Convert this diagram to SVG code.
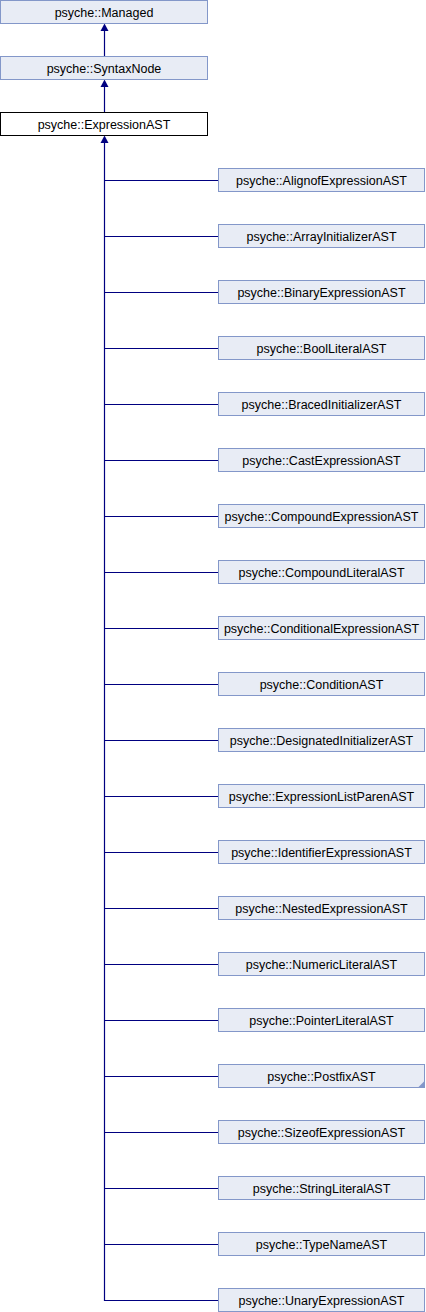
<svg xmlns="http://www.w3.org/2000/svg" width="426" height="1312" viewBox="0 0 426 1312">
<style>
.b{fill:#E8ECF5;stroke:#8397C9;stroke-width:1}
.cur{fill:#FFFFFF;stroke:#000000;stroke-width:1}
.t{font-family:"Liberation Sans",Arial,sans-serif;font-size:12.5px;fill:#000;text-anchor:middle}
.e{stroke:#000080;stroke-width:1.2;fill:none}
.ah{fill:#000080}
</style>
<rect width="426" height="1312" fill="#FFFFFF"/>
<g id="connectors">
<path class="e" d="M104.5 30V56M104.5 86V112"/>
<polygon class="ah" points="104.5,23.5 100.5,31 108.5,31"/>
<polygon class="ah" points="104.5,79.5 100.5,87 108.5,87"/>
<polygon class="ah" points="104.5,135.5 100.5,143 108.5,143"/>
<path class="e" d="M104.5 142V1300.5H218"/>
<path class="e" d="M104.5 180.5H218M104.5 236.5H218M104.5 292.5H218M104.5 348.5H218M104.5 404.5H218M104.5 460.5H218M104.5 516.5H218M104.5 572.5H218M104.5 628.5H218M104.5 684.5H218M104.5 740.5H218M104.5 796.5H218M104.5 852.5H218M104.5 908.5H218M104.5 964.5H218M104.5 1020.5H218M104.5 1076.5H218M104.5 1132.5H218M104.5 1188.5H218M104.5 1244.5H218"/>
</g>
<g id="n_managed"><rect class="b" x="0.5" y="0.5" width="207" height="23"/><text class="t" x="104" y="16.5">psyche::Managed</text></g>
<g id="n_syntaxnode"><rect class="b" x="0.5" y="56.5" width="207" height="23"/><text class="t" x="104" y="72.5">psyche::SyntaxNode</text></g>
<g id="n_expressionast"><rect class="cur" x="0.5" y="112.5" width="207" height="23"/><text class="t" x="104" y="128.5">psyche::ExpressionAST</text></g>
<g id="n0"><rect class="b" x="218.5" y="168.5" width="206" height="23"/><text class="t" x="321.5" y="184.5">psyche::AlignofExpressionAST</text></g>
<g id="n1"><rect class="b" x="218.5" y="224.5" width="206" height="23"/><text class="t" x="321.5" y="240.5">psyche::ArrayInitializerAST</text></g>
<g id="n2"><rect class="b" x="218.5" y="280.5" width="206" height="23"/><text class="t" x="321.5" y="296.5">psyche::BinaryExpressionAST</text></g>
<g id="n3"><rect class="b" x="218.5" y="336.5" width="206" height="23"/><text class="t" x="321.5" y="352.5">psyche::BoolLiteralAST</text></g>
<g id="n4"><rect class="b" x="218.5" y="392.5" width="206" height="23"/><text class="t" x="321.5" y="408.5">psyche::BracedInitializerAST</text></g>
<g id="n5"><rect class="b" x="218.5" y="448.5" width="206" height="23"/><text class="t" x="321.5" y="464.5">psyche::CastExpressionAST</text></g>
<g id="n6"><rect class="b" x="218.5" y="504.5" width="206" height="23"/><text class="t" x="321.5" y="520.5">psyche::CompoundExpressionAST</text></g>
<g id="n7"><rect class="b" x="218.5" y="560.5" width="206" height="23"/><text class="t" x="321.5" y="576.5">psyche::CompoundLiteralAST</text></g>
<g id="n8"><rect class="b" x="218.5" y="616.5" width="206" height="23"/><text class="t" x="321.5" y="632.5">psyche::ConditionalExpressionAST</text></g>
<g id="n9"><rect class="b" x="218.5" y="672.5" width="206" height="23"/><text class="t" x="321.5" y="688.5">psyche::ConditionAST</text></g>
<g id="n10"><rect class="b" x="218.5" y="728.5" width="206" height="23"/><text class="t" x="321.5" y="744.5">psyche::DesignatedInitializerAST</text></g>
<g id="n11"><rect class="b" x="218.5" y="784.5" width="206" height="23"/><text class="t" x="321.5" y="800.5">psyche::ExpressionListParenAST</text></g>
<g id="n12"><rect class="b" x="218.5" y="840.5" width="206" height="23"/><text class="t" x="321.5" y="856.5">psyche::IdentifierExpressionAST</text></g>
<g id="n13"><rect class="b" x="218.5" y="896.5" width="206" height="23"/><text class="t" x="321.5" y="912.5">psyche::NestedExpressionAST</text></g>
<g id="n14"><rect class="b" x="218.5" y="952.5" width="206" height="23"/><text class="t" x="321.5" y="968.5">psyche::NumericLiteralAST</text></g>
<g id="n15"><rect class="b" x="218.5" y="1008.5" width="206" height="23"/><text class="t" x="321.5" y="1024.5">psyche::PointerLiteralAST</text></g>
<g id="n16"><rect class="b" x="218.5" y="1064.5" width="206" height="23"/><polygon fill="#8397C9" points="424.5,1081 424.5,1087.5 418,1087.5"/><text class="t" x="321.5" y="1080.5">psyche::PostfixAST</text></g>
<g id="n17"><rect class="b" x="218.5" y="1120.5" width="206" height="23"/><text class="t" x="321.5" y="1136.5">psyche::SizeofExpressionAST</text></g>
<g id="n18"><rect class="b" x="218.5" y="1176.5" width="206" height="23"/><text class="t" x="321.5" y="1192.5">psyche::StringLiteralAST</text></g>
<g id="n19"><rect class="b" x="218.5" y="1232.5" width="206" height="23"/><text class="t" x="321.5" y="1248.5">psyche::TypeNameAST</text></g>
<g id="n20"><rect class="b" x="218.5" y="1288.5" width="206" height="23"/><text class="t" x="321.5" y="1304.5">psyche::UnaryExpressionAST</text></g>
</svg>
